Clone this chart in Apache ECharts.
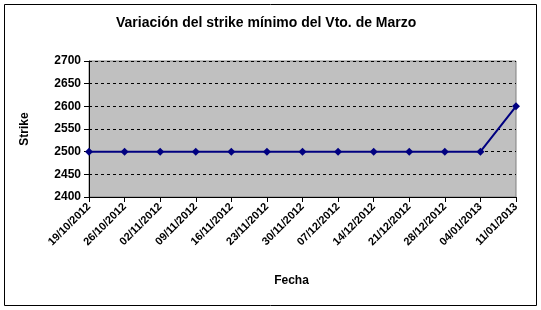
<!DOCTYPE html>
<html><head><meta charset="utf-8">
<script src="https://cdn.jsdelivr.net/npm/echarts@6/dist/echarts.min.js"></script>
<style>html,body{margin:0;padding:0;background:#fff}#c{width:541px;height:310px}</style>
</head><body><div id="c"></div>
<script>
const categories = ['19/10/2012','26/10/2012','02/11/2012','09/11/2012','16/11/2012','23/11/2012','30/11/2012','07/12/2012','14/12/2012','21/12/2012','28/12/2012','04/01/2013','11/01/2013'];
const strikeValues = [2500,2500,2500,2500,2500,2500,2500,2500,2500,2500,2500,2500,2600];
const yTicks = [2400,2450,2500,2550,2600,2650,2700];

const chart = echarts.init(document.getElementById('c'), null, {renderer:'canvas'});
const F = '"Liberation Sans", Arial, sans-serif';
chart.setOption({
  animation:false,
  backgroundColor:'#fff',
  title:{text:'Variación del strike mínimo del Vto. de Marzo', left:111, top:11,
    textStyle:{fontFamily:F, fontSize:14, fontWeight:'bold', color:'#000'}},
  graphic:[{type:'rect', shape:{x:4.5,y:4.5,width:532,height:301}, style:{fill:'none', stroke:'#000', lineWidth:1}, z:-1}],
  grid:{left:89, right:25, top:61, bottom:113, show:true, backgroundColor:'#C0C0C0', borderColor:'#808080', borderWidth:1},
  xAxis:{type:'category', data:categories, boundaryGap:false,
    name:'Fecha', nameLocation:'middle', nameGap:78,
    nameTextStyle:{fontFamily:F, fontSize:12, fontWeight:'bold', color:'#000', padding:[0,22,0,0]},
    axisLine:{lineStyle:{color:'#000', width:1}},
    axisTick:{show:true, alignWithLabel:true, length:5, lineStyle:{color:'#000'}},
    axisLabel:{rotate:45, fontFamily:F, fontSize:11, fontWeight:'bold', color:'#000', margin:8, interval:0},
    splitLine:{show:false}},
  yAxis:{type:'value', min:yTicks[0], max:yTicks[yTicks.length-1], interval:50,
    name:'Strike', nameLocation:'middle', nameGap:58, nameRotate:90,
    nameTextStyle:{fontFamily:F, fontSize:12, fontWeight:'bold', color:'#000'},
    axisLine:{show:true, lineStyle:{color:'#000', width:1}},
    axisTick:{show:true, length:5, lineStyle:{color:'#000'}},
    axisLabel:{fontFamily:F, fontSize:12, fontWeight:'bold', color:'#000', margin:8, formatter:v=>String(v)},
    splitLine:{show:true, lineStyle:{color:'#000', type:[3,3], width:1}}},
  series:[{type:'line', data:strikeValues, symbol:'diamond', symbolSize:8,
    lineStyle:{color:'#000080', width:2}, itemStyle:{color:'#000080'}}]
});
</script></body></html>
